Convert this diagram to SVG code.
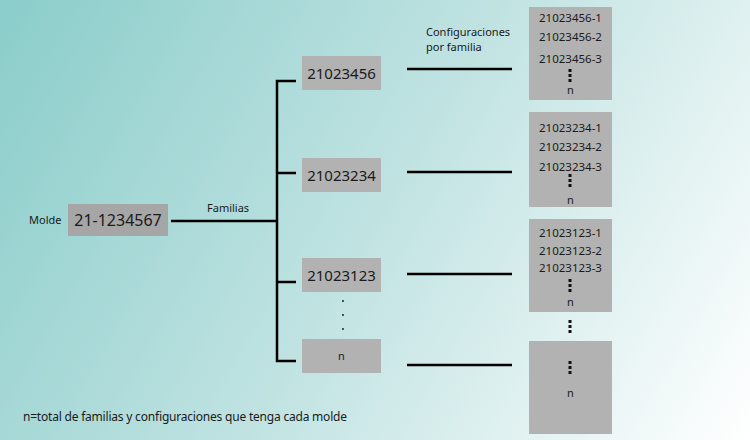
<svg xmlns="http://www.w3.org/2000/svg" width="750" height="440" viewBox="0 0 750 440">
<defs>
<linearGradient id="bg" x1="0" y1="0" x2="750" y2="440" gradientUnits="userSpaceOnUse">
<stop offset="0" stop-color="#8acdca"/>
<stop offset="0.5" stop-color="#c0e3e2"/>
<stop offset="1" stop-color="#ffffff"/>
</linearGradient>
<style>
text{font-family:"Noto Sans","Open Sans","DejaVu Sans",sans-serif;fill:#1a1a1a}
.lbl{font-size:11px}
.big{font-size:16px}
.fam{font-size:15px}
.cfg{font-size:11.5px}
.box{fill:#b2b2b2}
.mold{fill:#a6a6a6}
.ln{stroke:#000;stroke-width:2.5;fill:none}
.dot{fill:#111}
</style>
</defs>
<rect width="750" height="440" fill="url(#bg)"/>

<g id="connectors">
<path class="ln" d="M171 221H277"/>
<path class="ln" d="M296 81H277V361H296"/>
<path class="ln" d="M277 173H296"/>
<path class="ln" d="M277 282H296"/>
<path class="ln" d="M407 69H512"/>
<path class="ln" d="M407 172H512"/>
<path class="ln" d="M407 274H512"/>
<path class="ln" d="M407 365H512"/>
</g>

<g id="label-molde"><text class="lbl" x="29" y="224">Molde</text></g>
<g id="label-familias"><text class="lbl" x="207" y="212">Familias</text></g>
<g id="label-config"><text class="lbl" x="426" y="36">Configuraciones</text><text class="lbl" x="426" y="51">por familia</text></g>

<g id="node-mold"><rect class="mold" x="68" y="204" width="100" height="32"/><text class="big" x="118" y="226" text-anchor="middle">21-1234567</text></g>

<g id="node-fam1"><rect class="box" x="302" y="56" width="79" height="34"/><text class="fam" x="341.5" y="79" text-anchor="middle">21023456</text></g>
<g id="node-fam2"><rect class="box" x="302" y="158" width="79" height="34"/><text class="fam" x="341.5" y="181" text-anchor="middle">21023234</text></g>
<g id="node-fam3"><rect class="box" x="302" y="258" width="79" height="34"/><text class="fam" x="341.5" y="281" text-anchor="middle">21023123</text></g>
<g id="fam-dots"><circle class="dot" cx="343" cy="301" r="0.9"/><circle class="dot" cx="343" cy="315" r="0.9"/><circle class="dot" cx="343" cy="329" r="0.9"/></g>
<g id="node-famn"><rect class="box" x="302" y="339" width="79" height="34"/><text class="lbl" x="341.5" y="360" text-anchor="middle">n</text></g>

<g id="node-cfg1"><rect class="box" x="529" y="7" width="83" height="93"/>
<text class="cfg" x="570.5" y="22" text-anchor="middle">21023456-1</text>
<text class="cfg" x="570.5" y="41" text-anchor="middle">21023456-2</text>
<text class="cfg" x="570.5" y="63" text-anchor="middle">21023456-3</text>
<rect class="dot" x="568.5" y="69" width="3" height="3"/><rect class="dot" x="568.5" y="74" width="3" height="3"/><rect class="dot" x="568.5" y="79" width="3" height="3"/>
<text class="lbl" x="570.5" y="94" text-anchor="middle">n</text></g>

<g id="node-cfg2"><rect class="box" x="529" y="112" width="83" height="95"/>
<text class="cfg" x="570.5" y="132" text-anchor="middle">21023234-1</text>
<text class="cfg" x="570.5" y="151" text-anchor="middle">21023234-2</text>
<text class="cfg" x="570.5" y="171" text-anchor="middle">21023234-3</text>
<rect class="dot" x="568.5" y="174" width="3" height="3"/><rect class="dot" x="568.5" y="179" width="3" height="3"/><rect class="dot" x="568.5" y="184" width="3" height="3"/>
<text class="lbl" x="570.5" y="204" text-anchor="middle">n</text></g>

<g id="node-cfg3"><rect class="box" x="529" y="219" width="83" height="93"/>
<text class="cfg" x="570.5" y="237" text-anchor="middle">21023123-1</text>
<text class="cfg" x="570.5" y="255" text-anchor="middle">21023123-2</text>
<text class="cfg" x="570.5" y="272" text-anchor="middle">21023123-3</text>
<rect class="dot" x="568.5" y="279" width="3" height="3"/><rect class="dot" x="568.5" y="284" width="3" height="3"/><rect class="dot" x="568.5" y="289" width="3" height="3"/>
<text class="lbl" x="570.5" y="306" text-anchor="middle">n</text></g>

<g id="cfg-dots"><rect class="dot" x="568.5" y="320" width="3" height="3"/><rect class="dot" x="568.5" y="325" width="3" height="3"/><rect class="dot" x="568.5" y="330" width="3" height="3"/></g>

<g id="node-cfgn"><rect class="box" x="529" y="341" width="83" height="93"/>
<rect class="dot" x="568.5" y="361" width="3" height="3"/><rect class="dot" x="568.5" y="366" width="3" height="3"/><rect class="dot" x="568.5" y="371" width="3" height="3"/>
<text class="lbl" x="570.5" y="397" text-anchor="middle">n</text></g>

<g id="footnote"><text x="23" y="421" font-size="12" textLength="324">n=total de familias y configuraciones que tenga cada molde</text></g>
</svg>
